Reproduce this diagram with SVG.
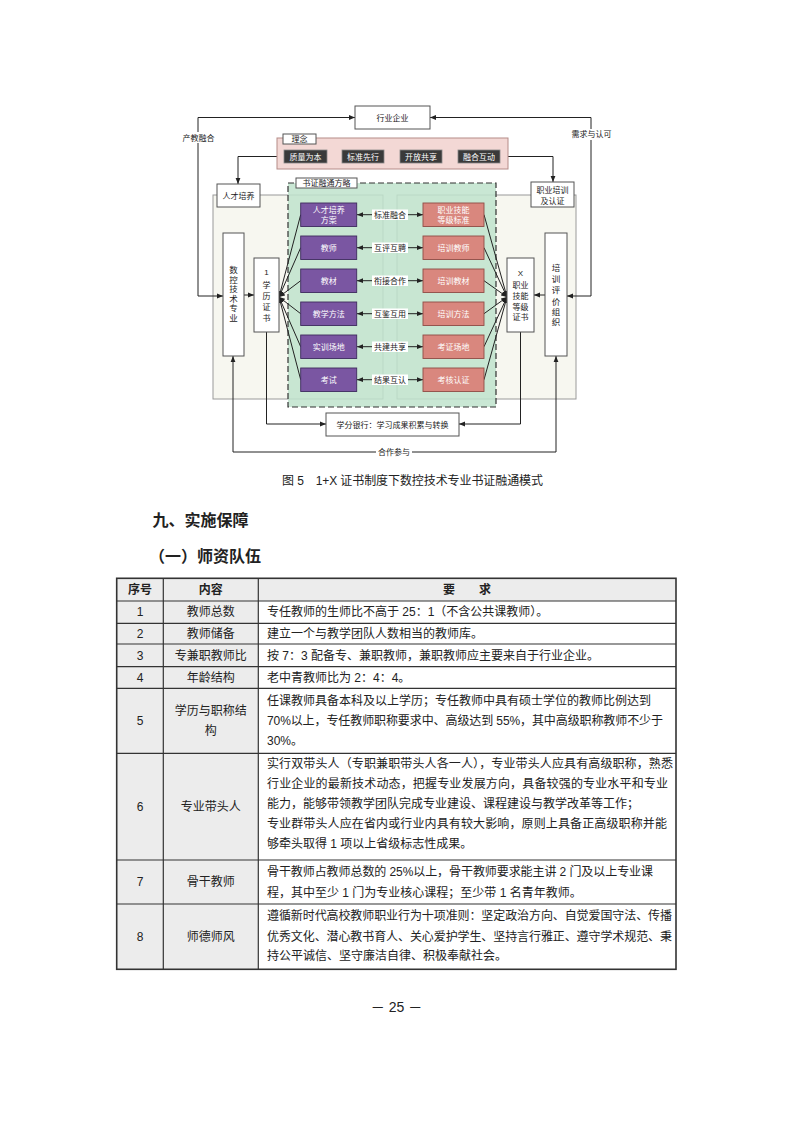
<svg xmlns="http://www.w3.org/2000/svg" width="793" height="1122" viewBox="0 0 793 1122">
<defs>
<style>
text{font-family:"Liberation Sans","Noto Sans CJK SC",sans-serif;fill:#222;}
.s{font-size:8px;}
.m{text-anchor:middle;}
.w{fill:#fff;}
.box{fill:#fff;stroke:#555;stroke-width:1;}
.dark{fill:#3a3a3a;stroke:#888;stroke-width:0.8;}
.pur{fill:#7a56a2;stroke:#3e2b5e;stroke-width:0.9;}
.pnk{fill:#d9877e;stroke:#8f4c45;stroke-width:0.9;}
.pan{fill:#f7f7f0;stroke:#9a9a9a;stroke-width:1;}
.ln{fill:none;stroke:#222;stroke-width:1;}
.lbg{fill:#fff;}
.t{font-size:12px;}
.h{font-size:16px;font-weight:bold;}
.cg{fill:#ececec;}
.grid{fill:none;stroke:#333;stroke-width:1.2;}
</style>
<marker id="ah" viewBox="0 0 10 10" refX="10" refY="5" markerWidth="6" markerHeight="6" markerUnits="userSpaceOnUse" orient="auto-start-reverse">
<path d="M0,1 L10,5 L0,9 z" fill="#222"/>
</marker>
</defs>
<rect width="793" height="1122" fill="#fff"/>

<!-- panels -->
<g id="panel-left"><rect class="pan" x="213" y="195" width="170" height="204"/></g>
<g id="panel-right"><rect class="pan" x="397" y="195" width="179" height="204"/></g>
<g id="strategy">
<rect x="288" y="183" width="208" height="224" fill="#bfe3cd" fill-opacity="0.85" stroke="#333" stroke-width="1.2" stroke-dasharray="6,3"/>
<rect class="box" x="296" y="178" width="61" height="10"/>
<text class="s m" x="326.5" y="186">书证融通方略</text>
</g>

<g id="connectors">
<path class="ln" d="M223,296 H198 V117.5 H355" marker-start="url(#ah)" marker-end="url(#ah)"/>
<path class="ln" d="M430,117.5 H591 V296 H567" marker-start="url(#ah)" marker-end="url(#ah)"/>
<path class="ln" d="M277,156.5 H238 V184" marker-end="url(#ah)"/>
<path class="ln" d="M508,156.5 H553 V182" marker-end="url(#ah)"/>
<path class="ln" d="M327,156.5 H342 M384,156.5 H400 M442,156.5 H458"/>
<path class="ln" d="M244,295 H254" marker-end="url(#ah)"/>
<path class="ln" d="M545,295 H534" marker-end="url(#ah)"/>
<path class="ln" d="M300.7,214.7 L279,297" marker-end="url(#ah)"/>
<path class="ln" d="M300.7,247.7 L279,297" marker-end="url(#ah)"/>
<path class="ln" d="M300.7,280.7 L279,297" marker-end="url(#ah)"/>
<path class="ln" d="M300.7,313.7 L279,297" marker-end="url(#ah)"/>
<path class="ln" d="M300.7,346.7 L279,297" marker-end="url(#ah)"/>
<path class="ln" d="M300.7,379.7 L279,297" marker-end="url(#ah)"/>
<path class="ln" d="M484,214.7 L507,297" marker-end="url(#ah)"/>
<path class="ln" d="M484,247.7 L507,297" marker-end="url(#ah)"/>
<path class="ln" d="M484,280.7 L507,297" marker-end="url(#ah)"/>
<path class="ln" d="M484,313.7 L507,297" marker-end="url(#ah)"/>
<path class="ln" d="M484,346.7 L507,297" marker-end="url(#ah)"/>
<path class="ln" d="M484,379.7 L507,297" marker-end="url(#ah)"/>
<path class="ln" d="M357,214.7 H423" marker-start="url(#ah)" marker-end="url(#ah)"/>
<path class="ln" d="M357,247.7 H423" marker-start="url(#ah)" marker-end="url(#ah)"/>
<path class="ln" d="M357,280.7 H423" marker-start="url(#ah)" marker-end="url(#ah)"/>
<path class="ln" d="M357,313.7 H423" marker-start="url(#ah)" marker-end="url(#ah)"/>
<path class="ln" d="M357,346.7 H423" marker-start="url(#ah)" marker-end="url(#ah)"/>
<path class="ln" d="M357,379.7 H423" marker-start="url(#ah)" marker-end="url(#ah)"/>
<path class="ln" d="M266.5,332 V424 H326" marker-end="url(#ah)"/>
<path class="ln" d="M520.5,332 V424 H459" marker-end="url(#ah)"/>
<path class="ln" d="M233,356 V452 H556 V356" marker-start="url(#ah)" marker-end="url(#ah)"/>
<rect class="lbg" x="180" y="132" width="37" height="11"/>
<text class="s m" x="198.5" y="140.5">产教融合</text>
<rect class="lbg" x="569" y="129" width="45" height="11"/>
<text class="s m" x="591.5" y="137.3">需求与认可</text>
<rect class="lbg" x="372" y="209.5" width="36" height="10.5"/><text class="s m" x="390" y="217.6">标准融合</text>
<rect class="lbg" x="372" y="242.5" width="36" height="10.5"/><text class="s m" x="390" y="250.6">互评互聘</text>
<rect class="lbg" x="372" y="275.5" width="36" height="10.5"/><text class="s m" x="390" y="283.6">衔接合作</text>
<rect class="lbg" x="372" y="308.5" width="36" height="10.5"/><text class="s m" x="390" y="316.6">互鉴互用</text>
<rect class="lbg" x="372" y="341.5" width="36" height="10.5"/><text class="s m" x="390" y="349.6">共建共享</text>
<rect class="lbg" x="372" y="374.5" width="36" height="10.5"/><text class="s m" x="390" y="382.6">结果互认</text>
<rect class="lbg" x="376" y="446.5" width="36" height="11"/>
<text class="s m" x="394" y="455">合作参与</text>
</g>

<g id="industry"><rect class="box" x="355" y="106" width="75" height="23"/><text class="s m" x="392.5" y="120.5">行业企业</text></g>

<g id="concept">
<rect x="277" y="138" width="231" height="31" fill="#f3d8d5" stroke="#b58c88" stroke-width="1"/>
<rect class="box" x="283" y="134" width="33" height="10"/>
<text class="s m" x="299.5" y="142">理念</text>
</g>
<g id="c1"><rect class="dark" x="284" y="150" width="43" height="13"/><text class="s m w" x="305.5" y="159.5">质量为本</text></g>
<g id="c2"><rect class="dark" x="342" y="150" width="42" height="13"/><text class="s m w" x="363" y="159.5">标准先行</text></g>
<g id="c3"><rect class="dark" x="400" y="150" width="42" height="13"/><text class="s m w" x="421" y="159.5">开放共享</text></g>
<g id="c4"><rect class="dark" x="458" y="150" width="42" height="13"/><text class="s m w" x="479" y="159.5">融合互动</text></g>

<g id="talent"><rect class="box" x="217" y="184" width="43" height="23"/><text class="s m" x="238.5" y="198.5">人才培养</text></g>
<g id="training"><rect class="box" x="531" y="182" width="43" height="25"/><text class="s m" x="552.5" y="193">职业培训</text><text class="s m" x="552.5" y="203.5">及认证</text></g>

<g id="major"><rect class="box" x="223" y="233" width="21" height="123"/>
<text class="s m" style="font-size:8.5px"><tspan x="233.5" y="273">数</tspan><tspan x="233.5" y="282.6">控</tspan><tspan x="233.5" y="292.2">技</tspan><tspan x="233.5" y="301.8">术</tspan><tspan x="233.5" y="311.4">专</tspan><tspan x="233.5" y="321">业</tspan></text></g>
<g id="diploma"><rect class="box" x="254" y="258" width="25" height="74"/>
<text class="s m"><tspan x="266.5" y="274.5">1</tspan><tspan x="266.5" y="288">学</tspan><tspan x="266.5" y="299">历</tspan><tspan x="266.5" y="309.7">证</tspan><tspan x="266.5" y="320.7">书</tspan></text></g>
<g id="xcert"><rect class="box" x="507" y="258" width="27" height="74"/>
<text class="s m"><tspan x="520.5" y="275.5">X</tspan><tspan x="520.5" y="288">职业</tspan><tspan x="520.5" y="299">技能</tspan><tspan x="520.5" y="309.7">等级</tspan><tspan x="520.5" y="319.7">证书</tspan></text></g>
<g id="evalorg"><rect class="box" x="545" y="233" width="22" height="123"/>
<text class="s m" style="font-size:8.5px"><tspan x="556" y="271.3">培</tspan><tspan x="556" y="282.3">训</tspan><tspan x="556" y="293">评</tspan><tspan x="556" y="304.7">价</tspan><tspan x="556" y="314.7">组</tspan><tspan x="556" y="324.7">织</tspan></text></g>

<g id="p1"><rect class="pur" x="300.7" y="203" width="56" height="23.5"/><text class="s m w" x="328.7" y="213">人才培养</text><text class="s m w" x="328.7" y="223">方案</text></g>
<g id="p2"><rect class="pur" x="300.7" y="236" width="56" height="23.5"/><text class="s m w" x="328.7" y="250.6">教师</text></g>
<g id="p3"><rect class="pur" x="300.7" y="269" width="56" height="23.5"/><text class="s m w" x="328.7" y="283.6">教材</text></g>
<g id="p4"><rect class="pur" x="300.7" y="302" width="56" height="23.5"/><text class="s m w" x="328.7" y="316.6">教学方法</text></g>
<g id="p5"><rect class="pur" x="300.7" y="335" width="56" height="23.5"/><text class="s m w" x="328.7" y="349.6">实训场地</text></g>
<g id="p6"><rect class="pur" x="300.7" y="368" width="56" height="23.5"/><text class="s m w" x="328.7" y="382.6">考试</text></g>

<g id="k1"><rect class="pnk" x="423" y="203" width="61" height="23.5"/><text class="s m w" x="453.5" y="213">职业技能</text><text class="s m w" x="453.5" y="223">等级标准</text></g>
<g id="k2"><rect class="pnk" x="423" y="236" width="61" height="23.5"/><text class="s m w" x="453.5" y="250.6">培训教师</text></g>
<g id="k3"><rect class="pnk" x="423" y="269" width="61" height="23.5"/><text class="s m w" x="453.5" y="283.6">培训教材</text></g>
<g id="k4"><rect class="pnk" x="423" y="302" width="61" height="23.5"/><text class="s m w" x="453.5" y="316.6">培训方法</text></g>
<g id="k5"><rect class="pnk" x="423" y="335" width="61" height="23.5"/><text class="s m w" x="453.5" y="349.6">考证场地</text></g>
<g id="k6"><rect class="pnk" x="423" y="368" width="61" height="23.5"/><text class="s m w" x="453.5" y="382.6">考核认证</text></g>

<g id="bank"><rect class="box" x="326" y="413" width="133" height="23"/><text class="s m" x="392.5" y="427.5">学分银行：学习成果积累与转换</text></g>

<text x="282" y="484.5" style="font-size:12px" textLength="261" lengthAdjust="spacing">图 5　1+X 证书制度下数控技术专业书证融通模式</text>

<text class="h" x="152.5" y="525.5">九、实施保障</text>
<text class="h" x="149" y="561.5">（一）师资队伍</text>

<g id="table">
<rect class="cg" x="116.7" y="578.3" width="559.3" height="22.7"/>
<rect class="cg" x="116.7" y="601" width="141.6" height="368.3"/>
<path class="grid" d="M116.7,601 H676 M116.7,623.3 H676 M116.7,644 H676 M116.7,666.7 H676 M116.7,688.3 H676 M116.7,753.3 H676 M116.7,860 H676 M116.7,904 H676 M163.3,578.3 V969.3 M258.3,578.3 V969.3"/>
<rect x="116.7" y="578.3" width="559.3" height="391" fill="none" stroke="#333" stroke-width="1.6"/>
<g class="t">
<text class="t m" x="140" y="594" style="font-weight:bold">序号</text>
<text class="t m" x="210.8" y="594" style="font-weight:bold">内容</text>
<text class="t m" x="467" y="594" style="font-weight:bold">要　　求</text>

<text class="t m" x="140" y="616.3">1</text><text class="t m" x="210.8" y="616.3">教师总数</text>
<text class="t" x="267" y="616.3">专任教师的生师比不高于 25：1（不含公共课教师）。</text>
<text class="t m" x="140" y="638">2</text><text class="t m" x="210.8" y="638">教师储备</text>
<text class="t" x="267" y="638">建立一个与教学团队人数相当的教师库。</text>
<text class="t m" x="140" y="659.6">3</text><text class="t m" x="210.8" y="659.6">专兼职教师比</text>
<text class="t" x="267" y="659.6">按 7：3 配备专、兼职教师，兼职教师应主要来自于行业企业。</text>
<text class="t m" x="140" y="681.8">4</text><text class="t m" x="210.8" y="681.8">年龄结构</text>
<text class="t" x="267" y="681.8">老中青教师比为 2：4：4。</text>

<text class="t m" x="140" y="725.3">5</text>
<text class="t m" x="210.8" y="715.3">学历与职称结</text><text class="t m" x="210.8" y="735.3">构</text>
<text class="t" x="267" y="705">任课教师具备本科及以上学历；专任教师中具有硕士学位的教师比例达到</text>
<text class="t" x="267" y="725" textLength="396" lengthAdjust="spacing">70%以上，专任教师职称要求中、高级达到 55%，其中高级职称教师不少于</text>
<text class="t" x="267" y="745">30%。</text>

<text class="t m" x="140" y="810.8">6</text><text class="t m" x="210.8" y="810.8">专业带头人</text>
<text class="t" x="267" y="768.3" textLength="406" lengthAdjust="spacing">实行双带头人（专职兼职带头人各一人），专业带头人应具有高级职称，熟悉</text>
<text class="t" x="267" y="788.3" textLength="401" lengthAdjust="spacing">行业企业的最新技术动态，把握专业发展方向，具备较强的专业水平和专业</text>
<text class="t" x="267" y="808.3">能力，能够带领教学团队完成专业建设、课程建设与教学改革等工作；</text>
<text class="t" x="267" y="828.3" textLength="400" lengthAdjust="spacing">专业群带头人应在省内或行业内具有较大影响，原则上具备正高级职称并能</text>
<text class="t" x="267" y="848.3">够牵头取得 1 项以上省级标志性成果。</text>

<text class="t m" x="140" y="886.3">7</text><text class="t m" x="210.8" y="886.3">骨干教师</text>
<text class="t" x="267" y="875.5" textLength="386" lengthAdjust="spacing">骨干教师占教师总数的 25%以上，骨干教师要求能主讲 2 门及以上专业课</text>
<text class="t" x="267" y="897">程，其中至少 1 门为专业核心课程；至少带 1 名青年教师。</text>

<text class="t m" x="140" y="940.8">8</text><text class="t m" x="210.8" y="940.8">师德师风</text>
<text class="t" x="267" y="920.3" textLength="405" lengthAdjust="spacing">遵循新时代高校教师职业行为十项准则：坚定政治方向、自觉爱国守法、传播</text>
<text class="t" x="267" y="940.8" textLength="405" lengthAdjust="spacing">优秀文化、潜心教书育人、关心爱护学生、坚持言行雅正、遵守学术规范、秉</text>
<text class="t" x="267" y="960.3">持公平诚信、坚守廉洁自律、积极奉献社会。</text>
</g>
</g>

<text class="m" x="396.5" y="1012" style="font-size:14px">－ 25 －</text>
</svg>
